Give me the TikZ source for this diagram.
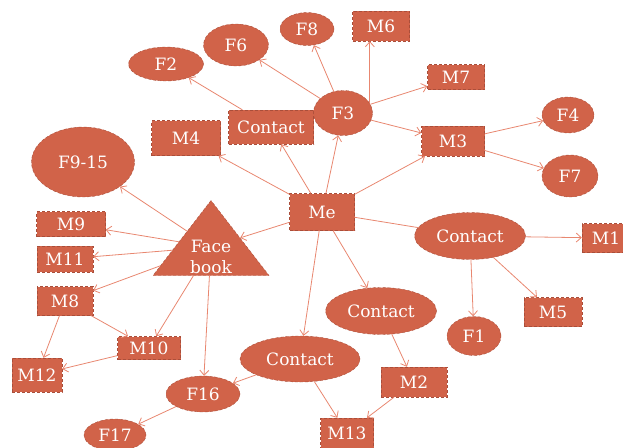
\documentclass[tikz,border=0pt]{standalone}
\usepackage{fontspec}
\setmainfont{DejaVu Serif}
\usepackage{tikz}
\usetikzlibrary{shapes.geometric, arrows.meta, positioning}
\usepackage{xcolor}
\definecolor{rust}{RGB}{209,99,73}
\definecolor{rustedge}{RGB}{170,78,58}
\definecolor{salmon}{RGB}{232,135,112}

\begin{document}
\begin{tikzpicture}[
    x=1pt, y=-1pt,
    font=\fontsize{17}{20}\selectfont,
    mbox/.style={rectangle, draw=rustedge, densely dashed, fill=rust, text=white, inner sep=0pt},
    fnode/.style={ellipse, draw=rustedge, densely dashed, fill=rust, text=white, inner sep=0pt},
    tri/.style={isosceles triangle, isosceles triangle stretches, shape border rotate=90, draw=rustedge, densely dashed, fill=rust, inner sep=0pt},
    link/.style={draw=salmon, thick, -{Straight Barb[length=5pt, width=9pt]}},
    plain/.style={draw=salmon, thick},
]
\useasboundingbox (0,0) rectangle (623,447);

% Centre
\node[mbox, minimum width=65, minimum height=37] (me) at (322,212) {Me};

% Upper branch
\node[mbox, minimum width=85, minimum height=34] (ctop) at (271,127) {Contact};
\node[mbox, minimum width=69, minimum height=35] (m4) at (186,138) {M4};
\node[fnode, minimum width=75, minimum height=34] (f2) at (166,64) {F2};
\node[fnode, minimum width=65, minimum height=42] (f6) at (236,45) {F6};
\node[fnode, minimum width=54, minimum height=33] (f8) at (307,29) {F8};
\node[mbox, minimum width=57, minimum height=30] (m6) at (381,26) {M6};
\node[fnode, minimum width=59, minimum height=45] (f3) at (343,113) {F3};
\node[mbox, minimum width=57, minimum height=25] (m7) at (456,77) {M7};
\node[mbox, minimum width=63, minimum height=30] (m3) at (453,141) {M3};
\node[fnode, minimum width=52, minimum height=36] (f4) at (568,115) {F4};
\node[fnode, minimum width=56, minimum height=42] (f7) at (570,176) {F7};

% Facebook branch
\node[tri, minimum width=116, minimum height=75, anchor=apex] (fb) at (211,200) {};
\node[text=white, align=center, font=\fontsize{17}{21}\selectfont] (fbtxt) at (211,257) {Face\\book};
\node[fnode, minimum width=103, minimum height=70] (f915) at (83,162) {F9-15};
\node[mbox, minimum width=69, minimum height=25] (m9) at (71,224) {M9};
\node[mbox, minimum width=56, minimum height=26] (m11) at (65,259) {M11};
\node[mbox, minimum width=56, minimum height=29] (m8) at (65,301) {M8};
\node[mbox, minimum width=63, minimum height=23] (m10) at (149,348) {M10};
\node[mbox, minimum width=50, minimum height=34] (m12) at (37,375) {M12};
\node[fnode, minimum width=74, minimum height=36] (f16) at (203,394) {F16};
\node[fnode, minimum width=62, minimum height=32] (f17) at (115,435) {F17};

% Lower branches
\node[fnode, minimum width=120, minimum height=46] (cbot) at (300,359) {Contact};
\node[fnode, minimum width=111, minimum height=47] (cmid) at (381,311) {Contact};
\node[fnode, minimum width=111, minimum height=47] (cright) at (470,236) {Contact};
\node[mbox, minimum width=48, minimum height=29] (m1) at (606,238) {M1};
\node[mbox, minimum width=58, minimum height=29] (m5) at (553,312) {M5};
\node[fnode, minimum width=54, minimum height=39] (f1) at (474,336) {F1};
\node[mbox, minimum width=66, minimum height=30] (m2) at (414,382) {M2};
\node[mbox, minimum width=53, minimum height=30] (m13) at (347,433) {M13};

% Edges
\draw[link] (me) -- (ctop);
\draw[link] (me) -- (m4);
\draw[link] (me) -- (f3);
\draw[link] (me) -- (m3);
\draw[link] (me) -- (fb);
\draw[plain] (me) -- (cright);
\draw[link] (me) -- (cmid);
\draw[link] (me) -- (cbot);

\draw[link] (ctop) -- (f2);
\draw[link] (f3) -- (f6);
\draw[link] (f3) -- (f8);
\draw[link] (f3.20) -- (f3.20 |- m6.south);
\draw[link] (f3) -- (m7);
\draw[link] (f3) -- (m3);
\draw[link] (m3) -- (f4);
\draw[link] (m3) -- (f7);

\draw[link] (fb) -- (f915);
\draw[link] (fb) -- (m9);
\draw[link] (fb) -- (m11);
\draw[link] (fb) -- (m8);
\draw[link] (fb) -- (m10);
\draw[link] (fb) -- (f16);
\draw[link] (m8) -- (m12);
\draw[link] (m8) -- (m10);
\draw[link] (m10) -- (m12);

\draw[link] (cbot) -- (f16);
\draw[link] (cbot) -- (m13);
\draw[link] (f16) -- (f17);
\draw[link] (cmid) -- (m2);
\draw[link] (m2) -- (m13);

\draw[link] (cright) -- (m1);
\draw[link] (cright) -- (f1);
\draw[link] (cright) -- (m5);

\end{tikzpicture}
\end{document}
